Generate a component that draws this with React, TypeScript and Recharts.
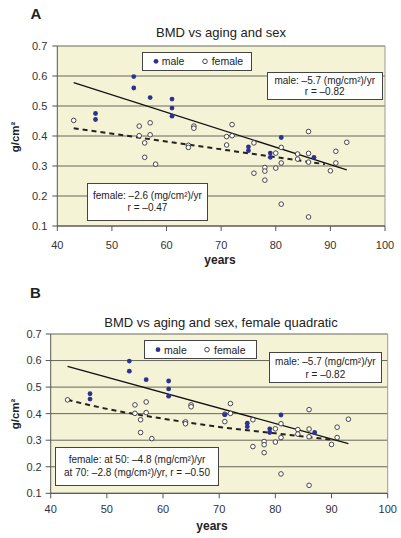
import React from "react";
import {
  CartesianGrid,
  ComposedChart,
  Line,
  ReferenceLine,
  Scatter,
  XAxis,
  YAxis,
} from "recharts";

// age (years), BMD (g/cm²)
const MALE_A: [number, number][] = [
  [47, 0.475], [47, 0.455], [54, 0.598], [54, 0.56], [57, 0.528],
  [61, 0.523], [61, 0.493], [61, 0.466], [75, 0.364], [75, 0.351],
  [79, 0.343], [79, 0.329], [81, 0.395], [87, 0.329],
];
const MALE_B: [number, number][] = [...MALE_A, [71, 0.396]];

const FEMALE: [number, number][] = [
  [43, 0.452], [55, 0.433], [57, 0.444], [55, 0.401], [57, 0.404],
  [56, 0.377], [56, 0.329], [58, 0.306], [64, 0.369], [64, 0.362],
  [65, 0.433], [65, 0.426], [71, 0.398], [72, 0.401], [71, 0.37],
  [72, 0.438], [76, 0.377], [76, 0.276], [78, 0.295], [78, 0.283],
  [78, 0.253], [80, 0.343], [80, 0.293], [81, 0.362], [81, 0.31],
  [81, 0.173], [84, 0.34], [84, 0.323], [86, 0.415], [86, 0.342],
  [86, 0.313], [86, 0.13], [90, 0.284], [91, 0.349], [91, 0.31],
  [93, 0.379],
];

const MALE_FIT: [number, number][] = [[43, 0.578], [93, 0.287]];
const FEMALE_FIT_A: [number, number][] = [[43, 0.426], [89, 0.306]];
const FEMALE_FIT_B: [number, number][] = [
  [43, 0.452], [50, 0.418], [60, 0.381], [70, 0.35], [80, 0.326], [90, 0.302],
];

const AGE_TICKS = [40, 50, 60, 70, 80, 90, 100];
const BMD_TICKS = [0.1, 0.2, 0.3, 0.4, 0.5, 0.6, 0.7];

const FONT = '"Liberation Sans", Arial, sans-serif';
const BLUE = "#2e3192";
const PLOT_BG = "#f5f3d6";
const GRID = "#66665a";

const rows = (pts: [number, number][]) => pts.map(([age, bmd]) => ({ age, bmd }));

const MaleDot = (p: any) => <circle cx={p.cx} cy={p.cy} r={2.4} fill={BLUE} />;
const FemaleDot = (p: any) => (
  <circle cx={p.cx} cy={p.cy} r={2.3} fill="#fff" stroke="#333" strokeWidth={0.9} />
);

function Txt({ x, y, size, bold, rotate, children }: any) {
  return (
    <div
      style={{
        position: "absolute",
        left: x,
        top: y,
        transform: `translate(-50%, -50%)${rotate ? " rotate(-90deg)" : ""}`,
        fontSize: size,
        fontWeight: bold ? "bold" : "normal",
        lineHeight: 1,
        whiteSpace: "nowrap",
        color: "#222",
      }}
    >
      {children}
    </div>
  );
}

function Box({ x, y, w, h, lines, gap }: any) {
  return (
    <div
      style={{
        position: "absolute",
        left: x,
        top: y,
        width: w,
        height: h,
        boxSizing: "border-box",
        border: "1px solid #444",
        background: "#fff",
        display: "flex",
        flexDirection: "column",
        alignItems: "center",
        justifyContent: "center",
        fontSize: 10,
        lineHeight: `${gap}px`,
        color: "#222",
        whiteSpace: "nowrap",
      }}
    >
      {lines.map((l: string) => (
        <div key={l}>{l}</div>
      ))}
    </div>
  );
}

function LegendBox({ x, y, w, h }: any) {
  const cy = h / 2 - 1;
  return (
    <div
      style={{
        position: "absolute",
        left: x,
        top: y,
        width: w,
        height: h,
        boxSizing: "border-box",
        border: "1px solid #444",
        background: "#fff",
        fontSize: 10.5,
        color: "#222",
      }}
    >
      <svg width={w} height={h} style={{ position: "absolute", left: -1, top: -1 }}>
        <circle cx={14} cy={cy + 1} r={2.4} fill={BLUE} />
        <circle cx={63} cy={cy + 1} r={2.3} fill="#fff" stroke="#333" strokeWidth={0.9} />
      </svg>
      <div style={{ position: "absolute", left: 19, top: cy - 6, lineHeight: "12px" }}>male</div>
      <div style={{ position: "absolute", left: 69, top: cy - 6, lineHeight: "12px" }}>female</div>
    </div>
  );
}

function Panel({ top, left, right, plotTop, plotBottom, xTickMargin, yTickMargin, male, femaleFit, curved }: any) {
  const H = 269;
  const yAxisW = 40;
  const xAxisH = 30;
  return (
    <div style={{ position: "absolute", left: 0, top, width: 401, height: H }}>
      <ComposedChart
        width={401}
        height={H}
        margin={{ top: plotTop, right: 401 - right, left: left - yAxisW, bottom: H - plotBottom - xAxisH }}
      >
        <CartesianGrid fill={PLOT_BG} stroke={GRID} vertical={false} strokeWidth={1} />
        <XAxis
          dataKey="age"
          type="number"
          domain={[40, 100]}
          ticks={AGE_TICKS}
          height={xAxisH}
          tickSize={5}
          tickMargin={xTickMargin}
          stroke="#555"
          tick={{ fill: "#333", fontSize: 11, fontFamily: FONT }}
          allowDataOverflow
        />
        <YAxis
          dataKey="bmd"
          type="number"
          domain={[0.1, 0.7]}
          ticks={BMD_TICKS}
          tickFormatter={(v: number) => v.toFixed(1)}
          width={yAxisW}
          tickSize={5}
          tickMargin={yTickMargin}
          stroke="#555"
          tick={{ fill: "#333", fontSize: 11, fontFamily: FONT }}
          allowDataOverflow
        />
        <ReferenceLine x={100} stroke="#999" />
        <Line
          data={rows(MALE_FIT)}
          dataKey="bmd"
          type="linear"
          stroke="#111"
          strokeWidth={1.3}
          dot={false}
          isAnimationActive={false}
        />
        <Line
          data={rows(femaleFit)}
          dataKey="bmd"
          type={curved ? "monotone" : "linear"}
          stroke="#222"
          strokeWidth={2}
          strokeDasharray="5 4"
          dot={false}
          isAnimationActive={false}
        />
        <Scatter data={rows(FEMALE)} dataKey="bmd" shape={FemaleDot} isAnimationActive={false} />
        <Scatter data={rows(male)} dataKey="bmd" shape={MaleDot} isAnimationActive={false} />
      </ComposedChart>
    </div>
  );
}

export default function App() {
  return (
    <div
      style={{
        position: "absolute",
        left: 0,
        top: 0,
        width: 401,
        height: 538,
        background: "#fff",
        fontFamily: FONT,
        overflow: "hidden",
      }}
    >
      <Panel
        top={0}
        left={57.3}
        right={385}
        plotTop={46}
        plotBottom={226}
        xTickMargin={10}
        yTickMargin={5}
        male={MALE_A}
        femaleFit={FEMALE_FIT_A}
      />
      <Panel
        top={269}
        left={50.7}
        right={387.7}
        plotTop={65}
        plotBottom={224.3}
        xTickMargin={7}
        yTickMargin={4}
        male={MALE_B}
        femaleFit={FEMALE_FIT_B}
        curved
      />

      <Txt x={36} y={13} size={15} bold>A</Txt>
      <Txt x={221} y={32} size={13}>BMD vs aging and sex</Txt>
      <Txt x={15.5} y={137} size={11.5} bold rotate>g/cm²</Txt>
      <Txt x={220} y={260} size={12} bold>years</Txt>
      <LegendBox x={141.7} y={52} w={110.3} h={18.7} />
      <Box x={266.7} y={71.7} w={116} h={28.3} gap={11} lines={["male: –5.7 (mg/cm²)/yr", "r = –0.82"]} />
      <Box x={86.7} y={182.7} w={121.6} h={38} gap={12} lines={["female: –2.6 (mg/cm²)/yr", "r = –0.47"]} />

      <Txt x={35.5} y={292} size={15} bold>B</Txt>
      <Txt x={221} y={322} size={13}>BMD vs aging and sex, female quadratic</Txt>
      <Txt x={15.5} y={414} size={11.5} bold rotate>g/cm²</Txt>
      <Txt x={212} y={526} size={12} bold>years</Txt>
      <LegendBox x={144} y={340} w={112.7} h={19.3} />
      <Box x={269} y={352.3} w={112.7} h={31} gap={13} lines={["male: –5.7 (mg/cm²)/yr", "r = –0.82"]} />
      <Box
        x={55}
        y={446.7}
        w={164}
        h={39.3}
        gap={13.5}
        lines={["female: at 50: –4.8 (mg/cm²)/yr", "at 70: –2.8 (mg/cm²)/yr, r = –0.50"]}
      />
    </div>
  );
}
